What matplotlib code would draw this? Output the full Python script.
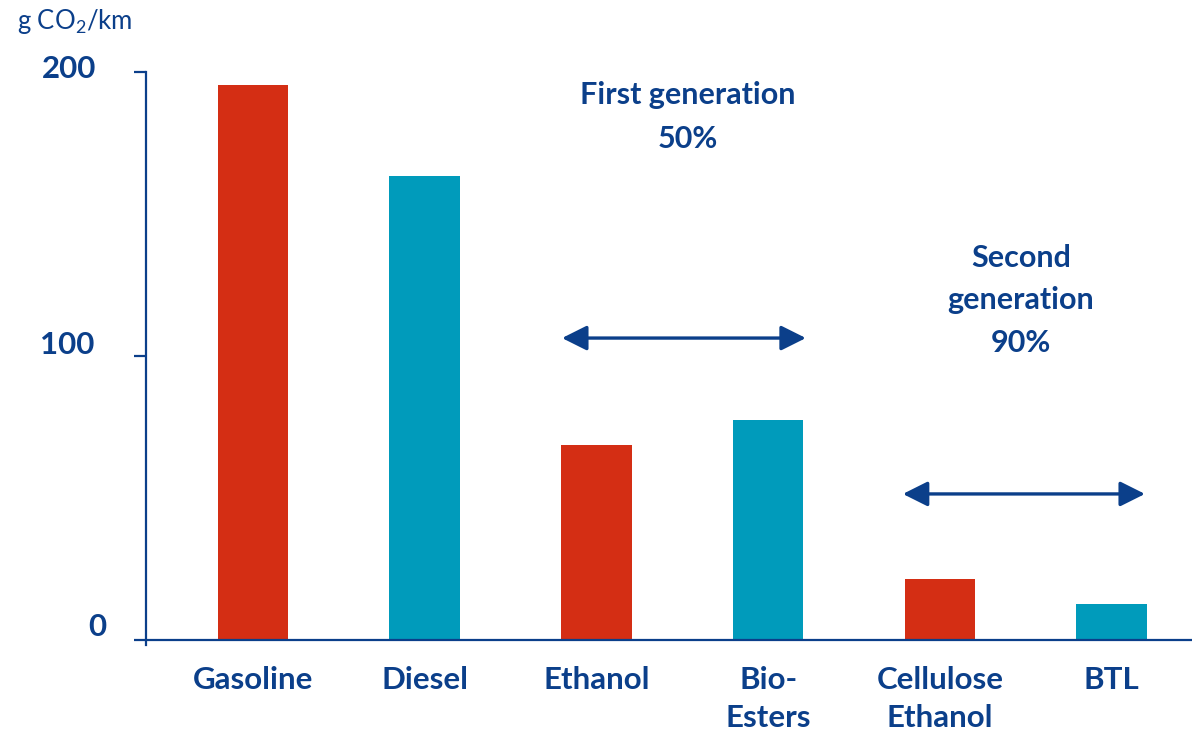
import matplotlib
matplotlib.use("Agg")
import matplotlib.pyplot as plt
from matplotlib.transforms import ScaledTranslation

# Data
categories = ["Gasoline", "Diesel", "Ethanol", "Bio-\nEsters", "Cellulose\nEthanol", "BTL"]
emissions = [195.5, 163.5, 68.5, 77.5, 21.5, 12.5]
y_ticks = [0, 100, 200]
y_tick_labels = ["0", "100", "200"]

NAVY = "#0B3F8A"
RED = "#D42E14"
TEAL = "#009BBB"
bar_colors = [RED, TEAL, RED, TEAL, RED, TEAL]

plt.rcParams["font.family"] = ["Lato", "DejaVu Sans"]
plt.rcParams["mathtext.fontset"] = "custom"
plt.rcParams["mathtext.rm"] = "Lato"

DPI = 100
fig = plt.figure(figsize=(11.92, 7.34), dpi=DPI)
ax = fig.add_axes([146 / 1192, 89 / 734, 1 - 146 / 1192, (645 - 72) / 734])

x = list(range(len(categories)))
ax.bar(x, emissions, width=0.41, color=bar_colors, zorder=2)

ax.set_xlim(-0.623, 5.469)
ax.set_ylim(-1.8, 200)

for side in ("top", "right"):
    ax.spines[side].set_visible(False)
ax.spines["bottom"].set_position(("data", 0))
for side in ("left", "bottom"):
    ax.spines[side].set_color(NAVY)
    ax.spines[side].set_linewidth(1.6)

ax.set_yticks(y_ticks)
ax.set_yticklabels(y_tick_labels, fontsize=22.5, fontweight="bold", color=NAVY)
ax.tick_params(axis="y", length=8.6, width=1.6, color=NAVY, pad=27)

# nudge the value labels upward, zero label sits further right
offsets = {"0": (10, 15), "100": (-2, 13), "200": (0, 5)}
for lbl in ax.get_yticklabels():
    dx, dy = offsets[lbl.get_text()]
    lbl.set_transform(lbl.get_transform() + ScaledTranslation(dx / DPI, dy / DPI, fig.dpi_scale_trans))

ax.set_xticks(x)
ax.set_xticklabels(categories, fontsize=22.5, fontweight="bold", color=NAVY, linespacing=1.42)
ax.tick_params(axis="x", length=0, pad=19)
for lbl in ax.get_xticklabels():
    lbl.set_verticalalignment("top")

# Unit label
fig.text(17 / 1192, 1 - 21 / 734, r"g CO$\mathregular{_2}$/km", fontsize=18.5, color=NAVY,
         ha="left", va="center")

# Generation annotations
arrow_kw = dict(arrowstyle="<|-|>", color=NAVY, lw=2.4, mutation_scale=38,
                shrinkA=0, shrinkB=0)
ax.annotate("", xy=(1.80, 106.3), xytext=(3.22, 106.3), arrowprops=arrow_kw)
ax.annotate("", xy=(3.785, 51.4), xytext=(5.195, 51.4), arrowprops=arrow_kw)

ax.text(2.534, 184.2, "First generation\n50%", fontsize=22, fontweight="bold",
        color=NAVY, ha="center", va="center", linespacing=1.72)
ax.text(4.473, 119.6, "Second\ngeneration\n90%", fontsize=22, fontweight="bold",
        color=NAVY, ha="center", va="center", linespacing=1.62)

fig.savefig("out.png", dpi=DPI)
